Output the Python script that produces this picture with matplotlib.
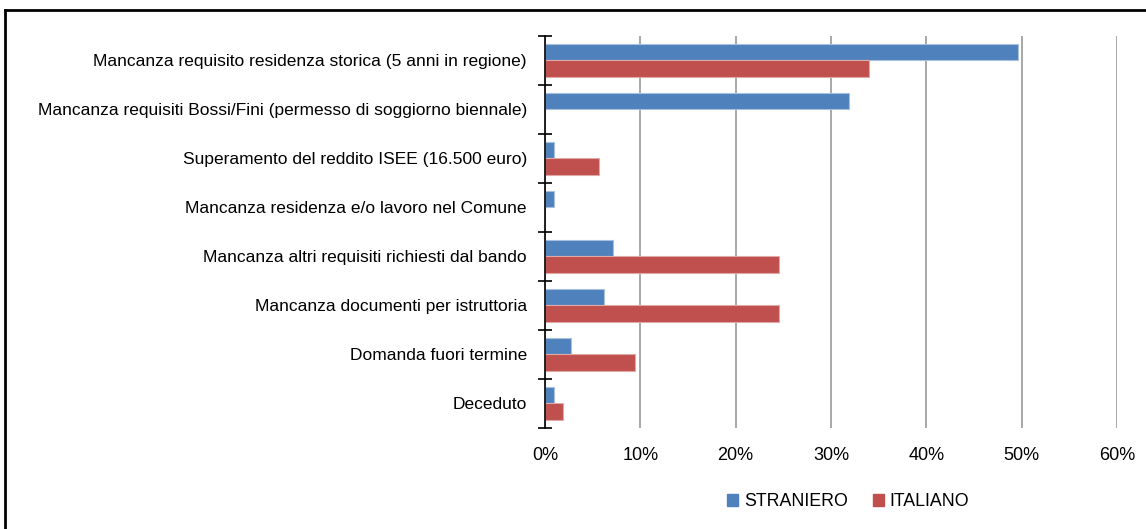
import matplotlib
matplotlib.use("Agg")
import matplotlib.pyplot as plt
import numpy as np
from matplotlib.patches import Patch
from matplotlib.ticker import FuncFormatter

categories = [
    "Mancanza requisito residenza storica (5 anni in regione)",
    "Mancanza requisiti Bossi/Fini (permesso di soggiorno biennale)",
    "Superamento del reddito ISEE (16.500 euro)",
    "Mancanza residenza e/o lavoro nel Comune",
    "Mancanza altri requisiti richiesti dal bando",
    "Mancanza documenti per istruttoria",
    "Domanda fuori termine",
    "Deceduto",
]
straniero = [49.6, 31.9, 0.9, 0.9, 7.1, 6.2, 2.7, 0.9]
italiano = [34.0, 0.0, 5.7, 0.0, 24.5, 24.5, 9.4, 1.9]
xticks = [0, 10, 20, 30, 40, 50, 60]
series_names = ["STRANIERO", "ITALIANO"]

plt.rcParams['font.family'] = ['Liberation Sans', 'DejaVu Sans']

fig = plt.figure(figsize=(11.46, 5.29), dpi=100)
ax = fig.add_axes([545/1146, 1-427.7/529, (1117-545)/1146, (427.7-35.7)/529])

blue = "#4F81BD"
red = "#C0504D"
h = 0.34
y = np.arange(len(categories))
ax.barh(y - h/2, straniero, height=h, color=blue, edgecolor="#A7C0DE", linewidth=0.8)
ax.barh(y + h/2, italiano, height=h, color=red, edgecolor="#E0A8A6", linewidth=0.8)

ax.set_ylim(len(categories) - 0.5, -0.5)
ax.set_xlim(0, 60)
ax.set_xticks(xticks)
ax.xaxis.set_major_formatter(FuncFormatter(lambda v, p: f"{int(v)}%"))
ax.tick_params(axis='x', length=0, pad=14, labelsize=13)
ax.set_yticks(y)
ax.set_yticklabels(categories)
ax.tick_params(axis='y', which='major', length=0, pad=13, labelsize=12.5)
ax.set_yticks(np.arange(-0.5, len(categories), 1.0), minor=True)
ax.tick_params(axis='y', which='minor', direction='inout', length=10, width=1.2, color='black')

for s in ['top', 'right', 'bottom']:
    ax.spines[s].set_visible(False)
ax.spines['left'].set_linewidth(1.2)
ax.spines['left'].set_zorder(5)
ax.xaxis.grid(True, color="#9A9A9A", linewidth=1.2)
ax.set_axisbelow(True)

handles = [Patch(facecolor=blue, edgecolor=blue), Patch(facecolor=red, edgecolor=red)]
fig.legend(handles, series_names, loc='center', bbox_to_anchor=(848/1146, 1-501.7/529),
           ncol=2, frameon=False, fontsize=12.8, handlelength=0.65, handleheight=0.65,
           handletextpad=0.3, columnspacing=1.4)

# outer frame (left and top edges visible)
fig.add_artist(plt.Line2D([4.5/1146, 4.5/1146], [0, 1-9.5/529], color='black', linewidth=2, transform=fig.transFigure))
fig.add_artist(plt.Line2D([4.5/1146, 1], [1-9.5/529, 1-9.5/529], color='black', linewidth=2, transform=fig.transFigure))

fig.savefig("out.png", dpi=100)
